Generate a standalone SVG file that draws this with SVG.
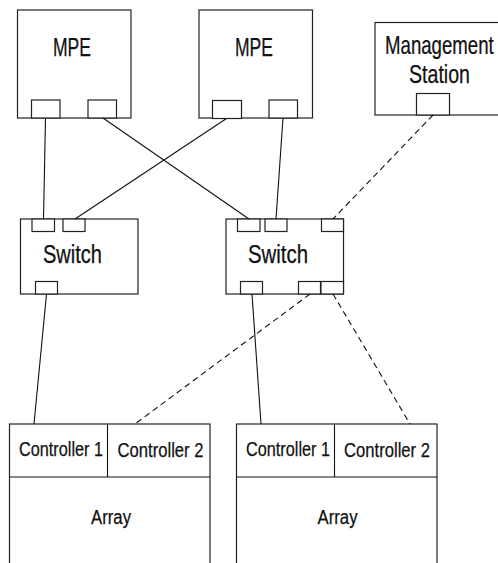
<svg xmlns="http://www.w3.org/2000/svg" width="498" height="563" viewBox="0 0 498 563">
<style>
rect{fill:#fff;stroke:#222;stroke-width:1.2}
line{stroke:#111;stroke-width:1.1}
.dash{stroke-dasharray:6 4}
text{font-family:"Liberation Sans Narrow","Liberation Sans",sans-serif;fill:#111;stroke:#111;stroke-width:.25;text-anchor:start}
.a{font-size:25px}
.b{font-size:21px}
.c{font-size:19.5px}
</style>
<rect width="498" height="563" style="stroke:none"/>
<g id="mpe1"><rect x="17.5" y="10" width="113.5" height="108"/><rect x="31.5" y="100" width="28.5" height="18"/><rect x="88" y="100" width="28.5" height="18"/><text class="a" x="53" y="55.5" textLength="38" lengthAdjust="spacingAndGlyphs">MPE</text></g>
<g id="mpe2"><rect x="199" y="10" width="113.5" height="108"/><rect x="212.5" y="100.5" width="29" height="18"/><rect x="269" y="100" width="28.5" height="18"/><text class="a" x="235" y="55.5" textLength="38" lengthAdjust="spacingAndGlyphs">MPE</text></g>
<g id="management"><rect x="375" y="22.5" width="130" height="92.5"/><rect x="416.5" y="93.5" width="33" height="21.5"/><text class="a" transform="translate(385 54) scale(.745 1)" textLength="146" lengthAdjust="spacingAndGlyphs">Management</text><text class="a" x="409" y="83" textLength="61" lengthAdjust="spacingAndGlyphs">Station</text></g>
<g id="switch1"><rect x="20.5" y="219" width="117.5" height="75"/><rect x="32" y="219" width="22.5" height="12.5"/><rect x="63" y="219" width="22" height="12.5"/><rect x="35.5" y="281.5" width="22" height="12.5"/><text class="a" x="43" y="263" textLength="59" lengthAdjust="spacingAndGlyphs">Switch</text></g>
<g id="switch2"><rect x="226" y="219" width="117.5" height="75"/><rect x="237.5" y="219" width="22.5" height="12.5"/><rect x="265" y="219" width="22" height="12.5"/><rect x="321.5" y="219" width="22" height="12.5"/><rect x="240.5" y="281.5" width="22" height="12.5"/><rect x="298.5" y="281.5" width="22" height="12.5"/><rect x="321" y="281.5" width="22.5" height="12.5"/><text class="a" x="248" y="263" textLength="60" lengthAdjust="spacingAndGlyphs">Switch</text></g>
<g id="array1"><rect x="9.5" y="424" width="200.5" height="142"/><line x1="9.5" y1="477" x2="210" y2="477"/><line x1="107.5" y1="424" x2="107.5" y2="477"/><text class="b" x="19" y="455.500" textLength="84" lengthAdjust="spacingAndGlyphs">Controller 1</text><text class="b" x="117.500" y="456.500" textLength="86" lengthAdjust="spacingAndGlyphs">Controller 2</text><text class="c" x="91" y="524" textLength="40" lengthAdjust="spacingAndGlyphs">Array</text></g>
<g id="array2"><rect x="236.5" y="424" width="200.500" height="142"/><line x1="236.5" y1="477" x2="437" y2="477"/><line x1="334.500" y1="424" x2="334.500" y2="477"/><text class="b" x="246" y="455.500" textLength="84" lengthAdjust="spacingAndGlyphs">Controller 1</text><text class="b" x="344" y="456.500" textLength="86" lengthAdjust="spacingAndGlyphs">Controller 2</text><text class="c" x="317.500" y="524" textLength="40" lengthAdjust="spacingAndGlyphs">Array</text></g>
<g id="connectors">
<line x1="45.500" y1="118" x2="43.500" y2="219"/>
<line x1="103" y1="118" x2="249" y2="219"/>
<line x1="226.500" y1="118.500" x2="75" y2="219"/>
<line x1="283" y1="118" x2="276" y2="219"/>
<line class="dash" x1="433" y1="115" x2="333" y2="219"/>
<line x1="46.500" y1="294" x2="34" y2="424"/>
<line x1="252" y1="294" x2="261" y2="424"/>
<line class="dash" x1="310" y1="294" x2="135" y2="424"/>
<line class="dash" x1="333" y1="294" x2="410" y2="424"/>
</g>
</svg>
